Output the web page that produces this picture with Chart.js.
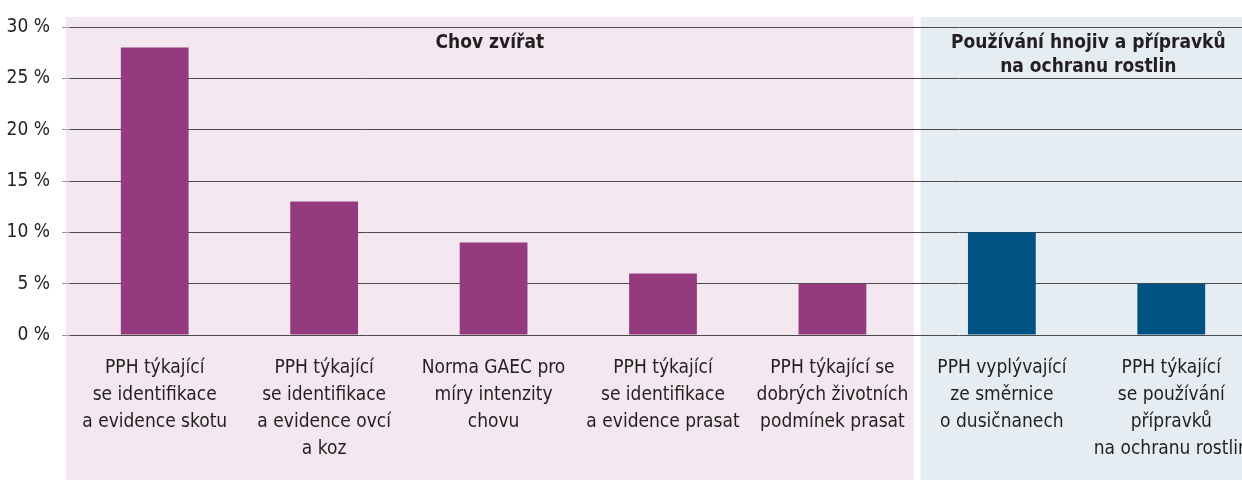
<!DOCTYPE html>
<html>
<head>
<meta charset="utf-8">
<script src="https://cdn.jsdelivr.net/npm/chart.js@4"></script>
<style>
html, body { margin: 0; padding: 0; background: #fff; overflow: hidden; }
#wrap { width: 1260px; height: 481px; }
</style>
</head>
<body>
<div id="wrap"><canvas id="barChart" width="1260" height="481"></canvas></div>
<script>
// data
var labels = [
  ["PPH týkající", "se identifikace", "a evidence skotu"],
  ["PPH týkající", "se identifikace", "a evidence ovcí", "a koz"],
  ["Norma GAEC pro", "míry intenzity", "chovu"],
  ["PPH týkající", "se identifikace", "a evidence prasat"],
  ["PPH týkající se", "dobrých životních", "podmínek prasat"],
  ["PPH vyplývající", "ze směrnice", "o dusičnanech"],
  ["PPH týkající", "se používání", "přípravků", "na ochranu rostlin"]
];
var values = [28, 13, 9, 6, 5, 10, 5];
var groupOf = [0, 0, 0, 0, 0, 1, 1];
var groupTitles = [
  ["Chov zvířat"],
  ["Používání hnojiv a přípravků", "na ochranu rostlin"]
];
var yTicks = [0, 5, 10, 15, 20, 25, 30];

var barColors = ["#953a7f", "#005282"];
var bgColors = ["#f3e7f0", "#e5ecf2"];
var FONT = "'Liberation Sans Narrow', 'DejaVu Sans Condensed', sans-serif";
var textColor = "#231f20";

// background panels + group titles
var groupPanels = {
  id: "groupPanels",
  beforeDraw: function(chart) {
    var ctx = chart.ctx, x = chart.scales.x, a = chart.chartArea;
    this._boxes = [];
    for (var g = 0; g < groupTitles.length; g++) {
      var i0 = groupOf.indexOf(g), i1 = groupOf.lastIndexOf(g);
      var left = i0 === 0 ? a.left - 4 :
        (x.getPixelForValue(i0 - 1) + x.getPixelForValue(i0)) / 2 + 3.5;
      var right = i1 === groupOf.length - 1 ? a.right :
        (x.getPixelForValue(i1) + x.getPixelForValue(i1 + 1)) / 2 - 3.5;
      ctx.save();
      ctx.fillStyle = bgColors[g];
      ctx.fillRect(left, a.top - 10, right - left, chart.height - a.top + 9);
      ctx.restore();
      this._boxes.push([left, right]);
    }
  },
  afterDraw: function(chart) {
    var ctx = chart.ctx, a = chart.chartArea;
    ctx.save();
    ctx.fillStyle = textColor;
    ctx.font = "bold 19px " + FONT;
    ctx.textAlign = "center";
    ctx.textBaseline = "middle";
    for (var g = 0; g < groupTitles.length; g++) {
      var b = this._boxes[g];
      for (var k = 0; k < groupTitles[g].length; k++) {
        ctx.fillText(groupTitles[g][k], (b[0] + b[1]) / 2, a.top + 16 + k * 24);
      }
    }
    ctx.restore();
  }
};

var ctx = document.getElementById("barChart").getContext("2d");
var barChart = new Chart(ctx, {
  type: "bar",
  data: {
    labels: labels,
    datasets: [{
      data: values,
      backgroundColor: values.map(function(v, i) { return barColors[groupOf[i]]; }),
      barPercentage: 0.4,
      categoryPercentage: 1.0
    }]
  },
  options: {
    responsive: false,
    animation: false,
    layout: { padding: { top: 27, right: 4, left: 0, bottom: 0 } },
    plugins: {
      legend: { display: false },
      tooltip: { enabled: false }
    },
    scales: {
      x: {
        grid: { display: false },
        border: { display: false },
        ticks: {
          color: textColor,
          font: { family: FONT, size: 19, lineHeight: 1.42 },
          maxRotation: 0,
          autoSkip: false,
          padding: 12
        },
        afterFit: function(s) {
          s.height = 146;
          s.paddingLeft = 0;
          s.paddingRight = 0;
        }
      },
      y: {
        min: 0,
        max: 30,
        afterBuildTicks: function(s) { s.ticks = yTicks.map(function(v) { return { value: v }; }); },
        grid: { color: "#4a4a4a", lineWidth: 1, tickLength: 8, tickColor: "#9a9a9a" },
        border: { display: false },
        ticks: {
          color: textColor,
          font: { family: FONT, size: 19 },
          padding: 12,
          callback: function(v) { return v + " %"; }
        },
        afterFit: function(s) { s.width = 70; }
      }
    }
  },
  plugins: [groupPanels]
});
</script>
</body>
</html>
